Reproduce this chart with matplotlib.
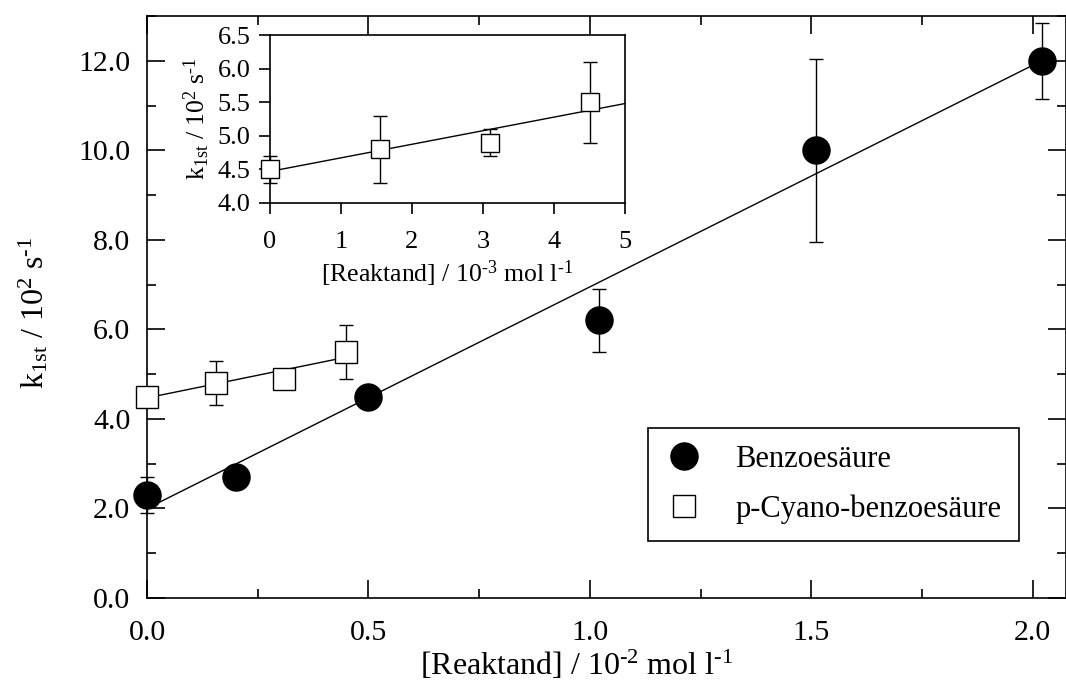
import matplotlib
matplotlib.use("Agg")
import matplotlib.pyplot as plt
import numpy as np
from matplotlib.lines import Line2D
from matplotlib.ticker import MultipleLocator, FormatStrFormatter

plt.rcParams["font.family"] = ["Liberation Serif", "DejaVu Serif"]
plt.rcParams["mathtext.fontset"] = "custom"
plt.rcParams["mathtext.rm"] = "Liberation Serif"
plt.rcParams["mathtext.it"] = "Liberation Serif:italic"
plt.rcParams["mathtext.bf"] = "Liberation Serif:bold"

# Benzoesaeure, [Reaktand] in 10^-2 mol/l, k in 10^2 1/s
benzo_x = [0.0, 0.2, 0.5, 1.02, 1.51, 2.02]
benzo_y = [2.3, 2.7, 4.5, 6.2, 10.0, 12.0]
benzo_err = [0.4, 0.0, 0.0, 0.7, 2.05, 0.85]
benzo_fit = (2.0, 4.95)  # intercept, slope

# p-Cyano-benzoesaeure, [Reaktand] in 10^-3 mol/l
cyano_x = [0.0, 1.55, 3.1, 4.5]
cyano_y = [4.5, 4.8, 4.9, 5.5]
cyano_err = [0.2, 0.5, 0.2, 0.6]
cyano_fit = (4.47, 0.202)  # per 10^-3 mol/l

labels = ["Benzoes\u00e4ure", "p-Cyano-benzoes\u00e4ure"]

HY = "\u2010"  # short hyphen for exponents, like the original
xlabel_main = "[Reaktand] / 10$^{" + HY + "2}$ mol l$^{" + HY + "1}$"
xlabel_ins = "[Reaktand] / 10$^{" + HY + "3}$ mol l$^{" + HY + "1}$"
ylabel = r"k$_{\mathrm{1st}}$ / 10$^{2}$ s$^{" + HY + "1}$"

fig = plt.figure(figsize=(10.66, 6.82), dpi=100)
ax = fig.add_axes([147 / 1066, 84 / 682, 919 / 1066, 582 / 682])

lw = 1.0
# fit lines
xb = np.array([0.0, max(benzo_x)])
ax.plot(xb, benzo_fit[0] + benzo_fit[1] * xb, color="black", lw=lw, zorder=2)
cx_main = np.array(cyano_x) / 10.0
xc = np.array([0.0, cx_main.max()])
ax.plot(xc, cyano_fit[0] + cyano_fit[1] * 10.0 * xc, color="black", lw=lw, zorder=2)

ax.errorbar(benzo_x, benzo_y, yerr=benzo_err, fmt="o", color="black", ms=19.5,
            mfc="black", mec="black", ecolor="black", elinewidth=lw, capsize=4.8,
            capthick=lw, zorder=3, clip_on=False)
ax.errorbar(cx_main, cyano_y, yerr=cyano_err, fmt="s", color="black", ms=16.5,
            mfc="white", mec="black", mew=1.0, ecolor="black", elinewidth=lw,
            capsize=4.8, capthick=lw, zorder=3, clip_on=False)

ax.set_xlim(0, 2.075)
ax.set_ylim(0, 13.0)
ax.xaxis.set_major_locator(MultipleLocator(0.5))
ax.xaxis.set_minor_locator(MultipleLocator(0.25))
ax.yaxis.set_major_locator(MultipleLocator(2.0))
ax.yaxis.set_minor_locator(MultipleLocator(1.0))
ax.xaxis.set_major_formatter(FormatStrFormatter("%.1f"))
ax.yaxis.set_major_formatter(FormatStrFormatter("%.1f"))
ax.tick_params(which="both", direction="in", top=True, right=True, width=1.2,
               labelsize=21.5)
ax.tick_params(which="major", length=13)
ax.tick_params(which="minor", length=6.5)
ax.tick_params(axis="x", which="major", pad=16)
ax.tick_params(axis="y", which="major", pad=12)
for s in ax.spines.values():
    s.set_linewidth(1.2)

ax.set_xlabel(xlabel_main, fontsize=23)
ax.xaxis.set_label_coords(0.467, -0.088)
ax.set_ylabel(ylabel, fontsize=23)
ax.yaxis.set_label_coords(-0.105, 0.49)

handles = [
    Line2D([], [], ls="none", marker="o", ms=19.5, mfc="black", mec="black"),
    Line2D([], [], ls="none", marker="s", ms=16.5, mfc="white", mec="black", mew=1.0),
]
leg = ax.legend(handles, labels, loc="lower left", bbox_to_anchor=(0.545, 0.098),
                fontsize=22, frameon=True, fancybox=False, edgecolor="black",
                framealpha=1, numpoints=1, handlelength=1.2, handletextpad=1.1,
                borderpad=0.57, labelspacing=0.65, borderaxespad=0)
leg.get_frame().set_linewidth(1.2)

# inset
ins = fig.add_axes([270 / 1066, 1 - 203 / 682, 355 / 1066, 168 / 682])
xi = np.array([0.0, 5.0])
ins.plot(xi, cyano_fit[0] + cyano_fit[1] * xi, color="black", lw=lw, zorder=2)
ins.errorbar(cyano_x, cyano_y, yerr=cyano_err, fmt="s", color="black", ms=12.5,
             mfc="white", mec="black", mew=1.0, ecolor="black", elinewidth=lw,
             capsize=5, capthick=lw, zorder=3, clip_on=False)
ins.set_xlim(0, 5)
ins.set_ylim(4.0, 6.5)
ins.xaxis.set_major_locator(MultipleLocator(1))
ins.yaxis.set_major_locator(MultipleLocator(0.5))
ins.yaxis.set_major_formatter(FormatStrFormatter("%.1f"))
ins.tick_params(direction="out", length=8, width=1.2, labelsize=19)
ins.tick_params(axis="x", pad=12)
ins.tick_params(axis="y", pad=6)
for s in ins.spines.values():
    s.set_linewidth(1.2)
ins.set_xlabel(xlabel_ins, fontsize=18.5, labelpad=4)
ins.set_ylabel(ylabel, fontsize=18.5, labelpad=4)

fig.savefig("out.png", dpi=100, facecolor="white")
